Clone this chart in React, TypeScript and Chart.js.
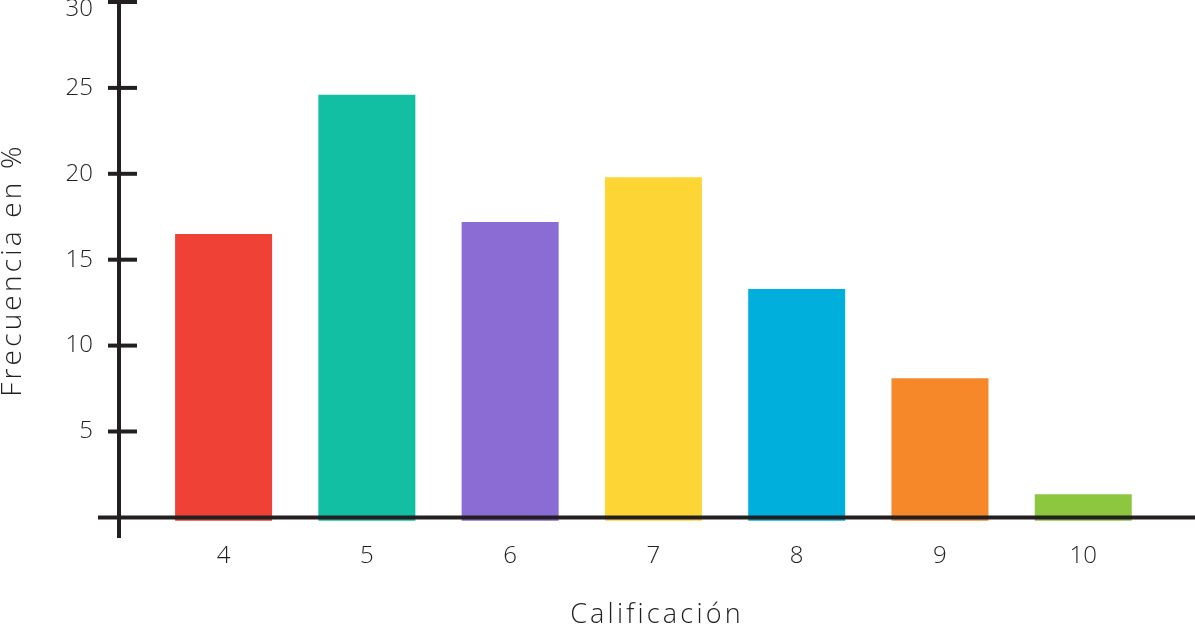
import React, { useEffect, useRef } from "react";
import { Chart, registerables } from "chart.js";

Chart.register(...registerables);

// ---- data ----
const categories = [4, 5, 6, 7, 8, 9, 10];
const frequencies = [16.5, 24.6, 17.2, 19.8, 13.3, 8.1, 1.35];
const barColors = ["#EF4136", "#12BFA3", "#8B6BD4", "#FDD535", "#00AFDB", "#F6882A", "#8DC63F"];
const yTickValues = [5, 10, 15, 20, 25, 30];
const xTitle = "Calificación";
const yTitle = "Frecuencia en %";

const INK = "#231F20";
const FONT = "'Open Sans', 'DejaVu Sans', sans-serif";

// wide tracking for the axis titles (titles are drawn before the datasets, tick labels after)
const titleTracking = {
  id: "titleTracking",
  beforeDraw(chart: any) {
    chart.ctx.letterSpacing = "3.2px";
  },
  beforeDatasetsDraw(chart: any) {
    chart.ctx.letterSpacing = "0px";
  },
};

const crossAxes = {
  id: "crossAxes",
  afterDatasetsDraw(chart: any) {
    const { ctx, chartArea, scales } = chart;
    const y0 = scales.y.getPixelForValue(0);
    const overhang = 21;
    ctx.save();
    ctx.strokeStyle = INK;
    ctx.lineWidth = 4;
    ctx.lineCap = "butt";
    ctx.beginPath();
    ctx.moveTo(chartArea.left, 0);
    ctx.lineTo(chartArea.left, chartArea.bottom);
    ctx.stroke();
    ctx.beginPath();
    ctx.moveTo(chartArea.left - overhang, y0);
    ctx.lineTo(chartArea.right, y0);
    ctx.stroke();
    scales.y.ticks.forEach((t: any) => {
      const p = scales.y.getPixelForValue(t.value);
      ctx.beginPath();
      ctx.moveTo(chartArea.left - 11, p);
      ctx.lineTo(chartArea.left + 18, p);
      ctx.stroke();
    });
    ctx.restore();
  },
};

export default function App() {
  const ref = useRef<HTMLCanvasElement>(null);
  useEffect(() => {
    document.body.style.margin = "0";
    if (!ref.current) return;
    const chart = new Chart(ref.current, {
      type: "bar",
      data: {
        datasets: [
          {
            data: categories.map((c, i) => ({ x: c, y: frequencies[i] })),
            backgroundColor: barColors,
            borderWidth: 0,
            base: -0.2,
            categoryPercentage: 1,
            barPercentage: 0.677,
          } as any,
        ],
      },
      options: {
        animation: false,
        responsive: true,
        maintainAspectRatio: false,
        layout: { padding: { top: 2, left: 0, right: 0, bottom: 0 } },
        plugins: { legend: { display: false }, tooltip: { enabled: false } },
        scales: {
          x: {
            type: "linear",
            offset: false,
            min: 3.27,
            max: 10.78,
            grid: { display: false, drawTicks: false },
            border: { display: false },
            afterBuildTicks: (scale: any) => {
              scale.ticks = categories.map((v) => ({ value: v }));
            },
            afterFit: (scale: any) => {
              scale.height = 91;
              scale.paddingLeft = 0;
              scale.paddingRight = 0;
            },
            ticks: {
              z: 1,
              padding: 4,
              color: INK,
              font: { family: FONT, size: 24, weight: "300" },
              callback: (v: any) => String(v),
            },
            title: {
              display: true,
              text: xTitle,
              color: INK,
              padding: 0,
              font: { family: FONT, size: 27, weight: "300", lineHeight: 1 },
            },
          },
          y: {
            min: -1.2,
            max: 30,
            grid: { display: false, drawTicks: false },
            border: { display: false },
            afterBuildTicks: (scale: any) => {
              scale.ticks = yTickValues.map((v) => ({ value: v }));
            },
            afterFit: (scale: any) => {
              scale.width = 119;
              scale.paddingTop = 0;
              scale.paddingBottom = 0;
            },
            ticks: {
              z: 1,
              padding: 26,
              color: INK,
              font: (c: any) => ({
                family: FONT,
                size: 24,
                weight: "300",
                lineHeight: c.tick && c.tick.value === 30 ? 0.6 : 1.2,
              }),
              callback: (v: any) => (v === 30 ? ["", String(v)] : String(v)),
            },
            title: {
              display: true,
              text: yTitle,
              color: INK,
              padding: 0,
              font: { family: FONT, size: 28, weight: "300", lineHeight: 0.95 },
            },
          },
        },
      },
      plugins: [titleTracking, crossAxes],
    });
    return () => chart.destroy();
  }, []);
  return (
    <div style={{ position: "relative", width: 1195, height: 629 }}>
      <canvas ref={ref} />
    </div>
  );
}
